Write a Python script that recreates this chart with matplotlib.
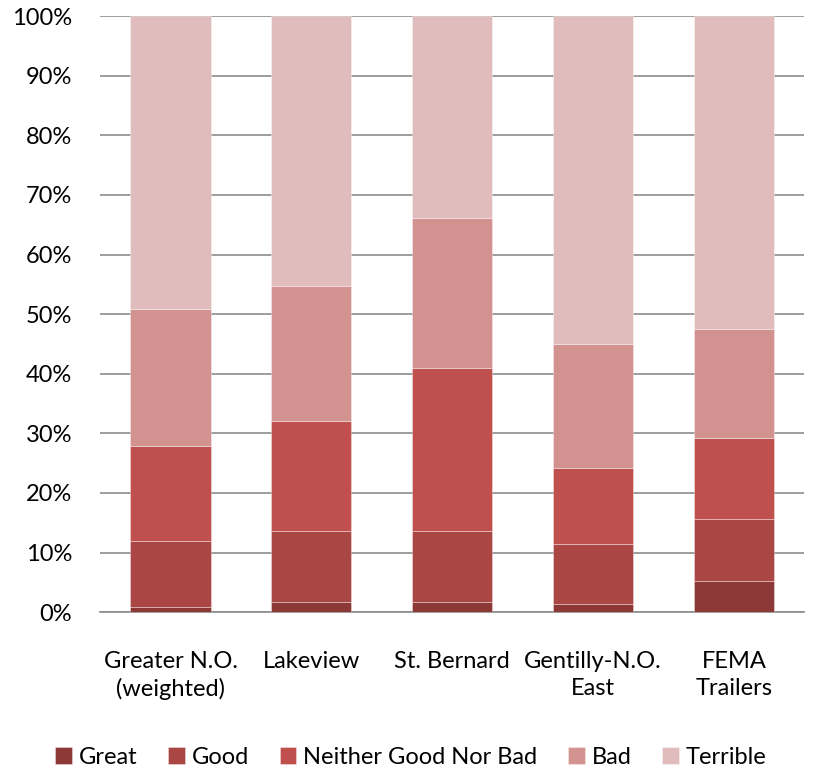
import matplotlib.pyplot as plt
import numpy as np

# kategori dan nilai (persen)
categories = ["Greater N.O.\n(weighted)", "Lakeview", "St. Bernard", "Gentilly-N.O.\nEast", "FEMA\nTrailers"]
great = [0.9, 1.7, 1.7, 1.3, 5.3]
good = [11.0, 12.0, 12.0, 10.1, 10.3]
neither = [16.0, 18.3, 27.2, 12.8, 13.6]
bad = [22.9, 22.7, 25.2, 20.8, 18.3]
terrible = [49.2, 45.3, 33.9, 55.0, 52.5]

series = [("Great", great, "#8c3836"),
          ("Good", good, "#aa4644"),
          ("Neither Good Nor Bad", neither, "#c0504d"),
          ("Bad", bad, "#d29290"),
          ("Terrible", terrible, "#e1bcbc")]

plt.rcParams['font.family'] = ['Lato', 'DejaVu Sans']
fig = plt.figure(figsize=(8.14, 7.7), dpi=100)
ax = fig.add_axes([0.123, 0.205, 0.865, 0.774])

x = np.arange(len(categories))
bottom = np.zeros(len(categories))
for name, vals, col in series:
    ax.bar(x, vals, 0.57, bottom=bottom, color=col, label=name,
           edgecolor=(1, 1, 1, 0.4), linewidth=0.6, zorder=3)
    bottom += np.array(vals)

ax.set_ylim(0, 100)
ax.set_xlim(-0.5, len(categories) - 0.5)
ax.set_yticks(np.arange(0, 101, 10))
ax.set_yticklabels([f"{v}%" for v in range(0, 101, 10)], fontsize=17)
ax.set_xticks(x)
ax.set_xticklabels(categories, fontsize=17, linespacing=1.35)
ax.tick_params(axis='y', length=0, pad=20)
ax.tick_params(axis='x', length=0, pad=28)
ax.grid(axis='y', color='#8c8c8c', linewidth=1.2, zorder=0)
for s in ['top', 'right', 'left']:
    ax.spines[s].set_visible(False)
ax.spines['bottom'].set_color('#8c8c8c')
ax.spines['bottom'].set_linewidth(1.2)

fig.legend(loc='lower center', ncol=5, frameon=False, fontsize=17,
           handlelength=0.7, handleheight=0.7, handletextpad=0.3,
           columnspacing=1.3, bbox_to_anchor=(0.505, -0.025))

plt.savefig("out.png", dpi=100)
